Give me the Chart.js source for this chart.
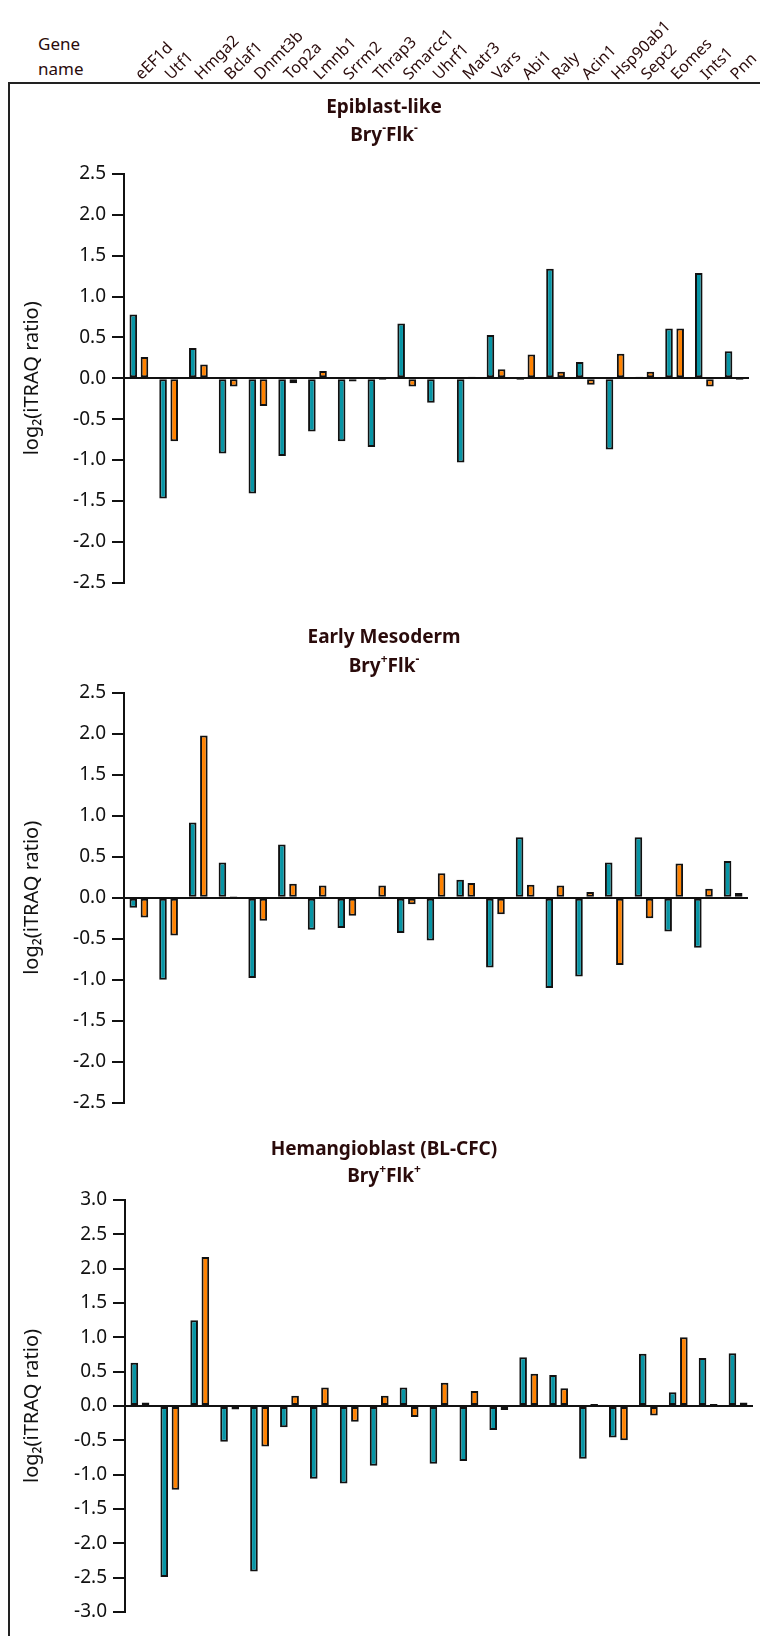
<!DOCTYPE html>
<html>
<head>
<meta charset="utf-8">
<script src="https://cdn.jsdelivr.net/npm/chart.js@4.4.0/dist/chart.umd.min.js"></script>
<style>
  html, body { margin: 0; padding: 0; background: #fff; }
  body { width: 760px; height: 1636px; position: relative; overflow: hidden; font-family: 'Noto Sans', sans-serif; }
  .panel { position: absolute; left: 0; width: 760px; }
  #frame { position: absolute; left: 8px; top: 82px; width: 800px; height: 1700px;
           border-left: 2px solid #222; border-top: 2px solid #222; }
  #geneHead { position: absolute; left: 38px; top: 31px; font-size: 17px; line-height: 25px; color: #2a0b0b; }
</style>
</head>
<body>
<div id="frame"></div>
<div id="geneHead">Gene<br>name</div>
<div class="panel" style="top:0;height:600px"><canvas id="epiChart"></canvas></div>
<div class="panel" style="top:600px;height:520px"><canvas id="mesChart"></canvas></div>
<div class="panel" style="top:1120px;height:516px"><canvas id="hemChart"></canvas></div>
<script>
// gene names along the top
const genes = ['eEF1d', 'Utf1', 'Hmga2', 'Bclaf1', 'Dnmt3b', 'Top2a', 'Lmnb1', 'Srrm2', 'Thrap3', 'Smarcc1',
  'Uhrf1', 'Matr3', 'Vars', 'Abi1', 'Raly', 'Acin1', 'Hsp90ab1', 'Sept2', 'Eomes', 'Ints1', 'Pnn'];

// Epiblast-like (Bry-Flk-)
const epiTeal = [0.78, -1.47, 0.37, -0.92, -1.41, -0.95, -0.65, -0.77, -0.84, 0.67, -0.30,
  -1.03, 0.53, -0.02, 1.34, 0.20, -0.87, 0.02, 0.61, 1.29, 0.33];
const epiOrange = [0.26, -0.77, 0.17, -0.10, -0.34, -0.06, 0.09, -0.04, -0.02, -0.10, 0.005,
  0.02, 0.11, 0.29, 0.08, -0.08, 0.30, 0.08, 0.61, -0.10, -0.02];

// Early Mesoderm (Bry+Flk-)
const mesTeal = [-0.12, -1.00, 0.92, 0.43, -0.98, 0.65, -0.39, -0.37, null, -0.43, -0.52,
  0.22, -0.85, 0.74, -1.10, -0.96, 0.43, 0.74, -0.41, -0.61, 0.45];
const mesOrange = [-0.24, -0.46, 1.98, 0.02, -0.28, 0.17, 0.15, -0.22, 0.15, -0.08, 0.30,
  0.18, -0.20, 0.16, 0.15, 0.07, -0.82, -0.25, 0.42, 0.11, 0.06];

// Hemangioblast (Bry+Flk+)
const hemTeal = [0.63, -2.49, 1.25, -0.52, -2.41, -0.31, -1.06, -1.13, -0.87, 0.27, -0.84,
  -0.80, -0.35, 0.71, 0.45, -0.77, -0.46, 0.76, 0.20, 0.70, 0.77];
const hemOrange = [0.05, -1.22, 2.17, -0.05, -0.59, 0.15, 0.27, -0.23, 0.15, -0.16, 0.34,
  0.22, -0.06, 0.47, 0.26, 0.03, -0.50, -0.14, 1.00, 0.03, 0.05];

// y ranges and titles ('^x' = superscript x)
const epiRange = [-2.5, 2.5];
const mesRange = [-2.5, 2.5];
const hemRange = [-3.0, 3.0];
const epiTitle = ['Epiblast-like', 'Bry^-Flk^-'];
const mesTitle = ['Early Mesoderm', 'Bry^+Flk^-'];
const hemTitle = ['Hemangioblast (BL-CFC)', 'Bry^+Flk^+'];

const TEAL = '#0795a5';
const ORANGE = '#ff8200';
const INK = '#111';
const BROWN = '#2a0b0b';
const FONT = "'Noto Sans', sans-serif";

// draws the two-line title above each plot, with superscripts
const panelTitle = {
  id: 'panelTitle',
  afterDraw(chart, args, opts) {
    const ctx = chart.ctx;
    ctx.save();
    ctx.fillStyle = BROWN;
    ctx.textBaseline = 'middle';
    ctx.textAlign = 'left';
    opts.lines.forEach((line, i) => {
      const segs = [];
      for (let k = 0; k < line.length; k++) {
        if (line[k] === '^') { segs.push({ t: line[k + 1], sup: true }); k++; }
        else if (segs.length && !segs[segs.length - 1].sup) segs[segs.length - 1].t += line[k];
        else segs.push({ t: line[k], sup: false });
      }
      const fontOf = s => s.sup ? `bold 12px ${FONT}` : `bold 19px ${FONT}`;
      let total = 0;
      segs.forEach(s => { ctx.font = fontOf(s); total += ctx.measureText(s.t).width; });
      let x = opts.x - total / 2;
      segs.forEach(s => {
        ctx.font = fontOf(s);
        ctx.fillText(s.t, x, opts.y[i] + (s.sup ? -7 : 0));
        x += ctx.measureText(s.t).width;
      });
    });
    ctx.restore();
  }
};

function makePanel(id, teal, orange, range, title, geo) {
  const ctx = document.getElementById(id).getContext('2d');
  return new Chart(ctx, {
    type: 'bar',
    data: {
      labels: genes,
      datasets: [
        { data: teal, backgroundColor: TEAL },
        { data: orange, backgroundColor: ORANGE }
      ]
    },
    options: {
      responsive: true,
      maintainAspectRatio: false,
      animation: false,
      devicePixelRatio: 1,
      layout: { padding: { top: geo.top, bottom: geo.bottom, left: 0, right: geo.right } },
      datasets: {
        bar: {
          borderColor: INK,
          borderWidth: 2,
          borderSkipped: false,
          categoryPercentage: 0.75,
          barPercentage: 0.68
        }
      },
      plugins: {
        legend: { display: false },
        tooltip: { enabled: false },
        panelTitle: { lines: title, x: 384, y: geo.titleY }
      },
      scales: {
        x: {
          display: geo.showGenes,
          position: 'top',
          grid: { display: false, drawTicks: false },
          border: { display: false },
          ticks: {
            autoSkip: false,
            minRotation: 45,
            maxRotation: 45,
            padding: 90,
            labelOffset: 13,
            color: BROWN,
            font: { family: FONT, size: 16 }
          },
          afterFit(scale) {
            // keep the plot width fixed; rotated labels may overflow to the right
            scale.height = geo.axisTop;
            scale.paddingLeft = 0;
            scale.paddingRight = 0;
          }
        },
        y: {
          min: range[0],
          max: range[1],
          border: { display: true, color: INK, width: 2 },
          grid: {
            color: c => (c.tick && c.tick.value === 0 ? INK : 'rgba(0,0,0,0)'),
            tickColor: INK,
            lineWidth: 2,
            tickLength: 12
          },
          ticks: {
            stepSize: 0.5,
            padding: 6,
            color: INK,
            font: { family: FONT, size: 19 },
            callback: v => v.toFixed(1)
          },
          title: {
            display: true,
            text: 'log\u2082(iTRAQ ratio)',
            color: INK,
            font: { family: FONT, size: 20 },
            padding: { top: 20, bottom: 0 }
          },
          afterFit(scale) { scale.width = geo.left; }
        }
      }
    },
    plugins: [panelTitle]
  });
}

makePanel('epiChart', epiTeal, epiOrange, epiRange, epiTitle,
  { showGenes: true, axisTop: 174, top: 0, bottom: 15, left: 124, right: 11, titleY: [108, 136] });
makePanel('mesChart', mesTeal, mesOrange, mesRange, mesTitle,
  { showGenes: false, axisTop: 0, top: 93, bottom: 17, left: 124, right: 12, titleY: [38, 67] });
makePanel('hemChart', hemTeal, hemOrange, hemRange, hemTitle,
  { showGenes: false, axisTop: 0, top: 80, bottom: 24, left: 125, right: 7, titleY: [30, 57] });
</script>
</body>
</html>
